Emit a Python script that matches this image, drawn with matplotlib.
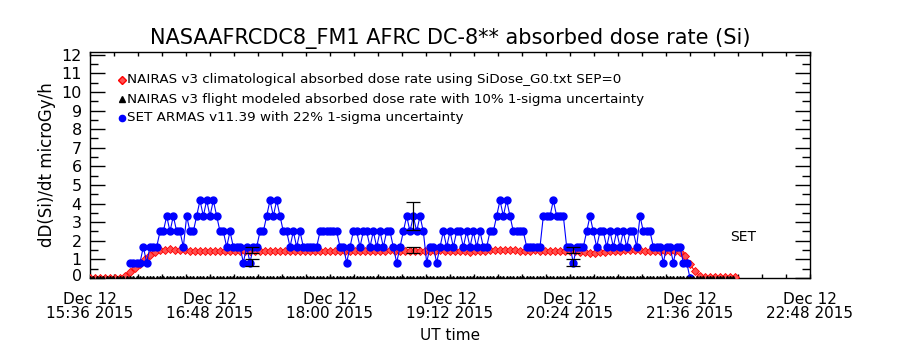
import datetime as dt
import numpy as np
import matplotlib
matplotlib.use("Agg")
import matplotlib.pyplot as plt
import matplotlib.dates as mdates
import matplotlib.transforms as mtransforms
from matplotlib.ticker import MultipleLocator

plt.rcParams['font.family'] = ['DejaVu Sans']

T0 = dt.datetime(2015, 12, 12, 15, 36)

# NAIRAS climatological (minutes after 15:36, step 3 min)
nairas_start, nairas_step = 0, 3
nairas_clim = [
    0, 0, 0, 0, 0, 0, 0.02,
    0.12, 0.30, 0.52, 0.75, 1.00, 1.22, 1.42, 1.52,
    1.53, 1.54, 1.52, 1.50, 1.48, 1.47, 1.46, 1.46, 1.45, 1.46,
    1.45, 1.44, 1.45, 1.46, 1.45, 1.44, 1.45, 1.46, 1.46, 1.45,
    1.44, 1.45, 1.46, 1.45, 1.45, 1.44, 1.45, 1.46, 1.47, 1.46,
    1.45, 1.46, 1.47, 1.46, 1.45, 1.44, 1.43, 1.44, 1.45, 1.46,
    1.45, 1.46, 1.47, 1.46, 1.47, 1.48, 1.47, 1.46, 1.45, 1.46,
    1.47, 1.46, 1.45, 1.46, 1.47, 1.48, 1.47, 1.46, 1.45, 1.44,
    1.43, 1.42, 1.43, 1.44, 1.46, 1.48, 1.49, 1.50, 1.50, 1.49,
    1.48, 1.47, 1.46, 1.47, 1.48, 1.47, 1.46, 1.45, 1.44, 1.43,
    1.44, 1.45, 1.44, 1.42, 1.40, 1.37, 1.36, 1.38, 1.42, 1.45,
    1.46, 1.47, 1.49, 1.51, 1.50, 1.48, 1.46, 1.45, 1.44, 1.45,
    1.46, 1.45, 1.44, 1.42,
    1.20, 0.75, 0.35, 0.12, 0.06,
    0.05, 0.05, 0.05, 0.05, 0.05, 0.05,
]

# NAIRAS flight modeled (step 2 min) - at zero along the bottom
flight_start, flight_step = 0, 2
nairas_flight = [0.0] * 194

# SET ARMAS quantized levels (step 2 min starting 24 min)
set_levels = [0.0, 0.83, 1.67, 2.5, 3.33, 4.17]
set_start, set_step = 24, 2
set_idx = [
    1, 1, 1, 1, 2, 1, 2, 2, 2, 3, 3, 4, 3, 4, 3, 3, 2, 4, 3, 3,
    4, 5, 4, 5, 4, 5, 4, 3, 3, 2, 3, 2, 2, 2, 1, 2, 1, 2, 2, 3,
    3, 4, 5, 4, 5, 4, 3, 3, 2, 3, 2, 3, 2, 2, 2, 2, 2, 3, 3, 3,
    3, 3, 3, 2, 2, 1, 2, 3, 3, 2, 3, 3, 2, 3, 2, 3, 2, 3, 3, 2,
    1, 2, 3, 4, 3, 4, 3, 4, 3, 1, 2, 2, 1, 2, 3, 2, 3, 2, 3, 3,
    2, 3, 2, 3, 2, 3, 2, 2, 3, 3, 4, 5, 4, 5, 4, 3, 3, 3, 3, 2,
    2, 2, 2, 2, 4, 4, 4, 5, 4, 4, 4, 2, 2, 1, 2, 2, 2, 3, 4, 3,
    2, 3, 3, 2, 3, 2, 3, 2, 3, 2, 3, 3, 2, 4, 3, 3, 3, 2, 2, 2,
    1, 2, 2, 1, 2, 2, 1, 1, 0,
]

# error bars (minutes after 15:36)
err_times = [97, 194, 290]
err_nairas = [1.5, 1.5, 1.5]
err_set = [0.83, 3.33, 0.83]
nairas_unc = 0.10
set_unc = 0.22

title = "NASAAFRCDC8_FM1 AFRC DC-8** absorbed dose rate (Si)"
leg_labels = [
    "NAIRAS v3 climatological absorbed dose rate using SiDose_G0.txt SEP=0",
    "NAIRAS v3 flight modeled absorbed dose rate with 10% 1-sigma uncertainty",
    "SET ARMAS v11.39 with 22% 1-sigma uncertainty",
]


def times(start, step, n):
    return [T0 + dt.timedelta(minutes=start + step * i) for i in range(n)]


fig = plt.figure(figsize=(9, 3.5), dpi=100)
ax = fig.add_axes([0.1, 0.2057, 0.8, 0.646])

tn = times(nairas_start, nairas_step, len(nairas_clim))
tf = times(flight_start, flight_step, len(nairas_flight))
ts = times(set_start, set_step, len(set_idx))
set_vals = [set_levels[i] for i in set_idx]

ax.plot(tn, nairas_clim, color='red', lw=0.8, marker='D', ms=3.6,
        mfc='#ff5050', mec='red', mew=0.6, zorder=3)
ax.plot(ts, set_vals, color='blue', lw=0.8, marker='o', ms=5,
        mfc='blue', mec='blue', zorder=4)
ax.plot(tf, nairas_flight, color='black', lw=0, marker='^', ms=3,
        zorder=5, clip_on=True)

te = [T0 + dt.timedelta(minutes=m) for m in err_times]
ax.errorbar(te, err_nairas, yerr=[v * nairas_unc for v in err_nairas],
            fmt='none', ecolor='black', elinewidth=0.9, capsize=5, capthick=0.9, zorder=6)
ax.errorbar(te, err_set, yerr=[v * set_unc for v in err_set],
            fmt='none', ecolor='black', elinewidth=0.9, capsize=5, capthick=0.9, zorder=6)

ax.set_xlim(T0, T0 + dt.timedelta(minutes=432))
ax.set_ylim(0, 12.15)

locs = [T0 + dt.timedelta(minutes=72 * i) for i in range(7)]
ax.set_xticks(locs)
ax.set_xticks([T0 + dt.timedelta(minutes=14.4 * i) for i in range(31)], minor=True)
ax.xaxis.set_major_formatter(mdates.DateFormatter('%b %d\n%H:%M %Y'))

ax.yaxis.set_major_locator(MultipleLocator(1))
ax.yaxis.set_minor_locator(MultipleLocator(0.5))

ax.tick_params(axis='y', which='major', direction='in', length=11, width=1,
               left=True, right=True, labelsize=11.5, pad=6)
ax.tick_params(axis='y', which='minor', direction='in', length=5.5, width=1,
               left=True, right=True)
ax.tick_params(axis='x', which='both', direction='in', length=3, width=1,
               top=True, bottom=True, labelsize=11, pad=10)
for lab in ax.get_xticklabels():
    lab.set_linespacing(0.95)

ax.set_ylabel("dD(Si)/dt microGy/h", fontsize=12, labelpad=4)
ax.set_xlabel("UT time", fontsize=11, labelpad=5)
ax.set_title(title, fontsize=15, pad=6)

for s in ax.spines.values():
    s.set_linewidth(1)

# raise the "0" tick label slightly like the reference
fig.canvas.draw()
for tk in ax.yaxis.get_major_ticks():
    if tk.label1.get_text() in ('0', '−0', '0.0'):
        tk.label1.set_transform(tk.label1.get_transform() +
                                mtransforms.ScaledTranslation(0, 0.03, fig.dpi_scale_trans))

# legend drawn as text with marker glyphs
leg_y = [10.65, 9.6, 8.6]
mk = [dict(marker='D', ms=4, mfc='#ff5050', mec='red'),
      dict(marker='^', ms=4, mfc='black', mec='black'),
      dict(marker='o', ms=4.5, mfc='blue', mec='blue')]
for y, lab, m in zip(leg_y, leg_labels, mk):
    ax.plot([0.045], [y], transform=ax.get_yaxis_transform(), lw=0, clip_on=False, **m)
    ax.text(0.051, y, lab, transform=ax.get_yaxis_transform(), fontsize=9.7,
            va='center', ha='left')

ax.text(T0 + dt.timedelta(minutes=384), 2.2, "SET", fontsize=10, va='center', ha='left')

fig.savefig("out.png", dpi=100)
